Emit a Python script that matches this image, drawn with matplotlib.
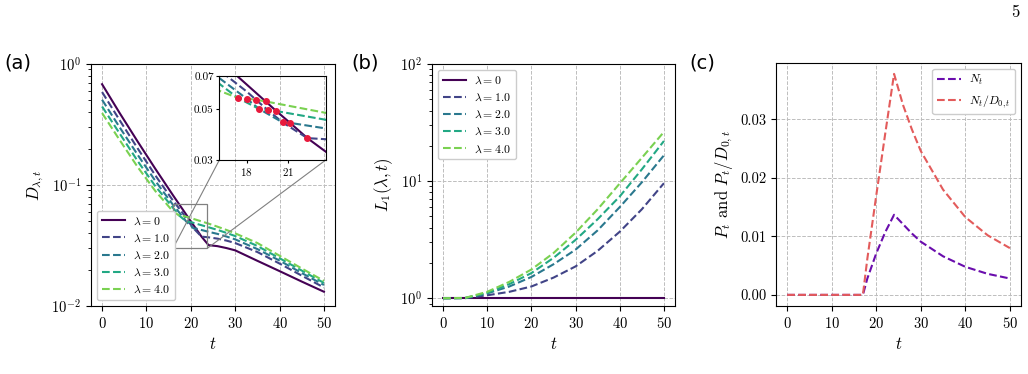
import numpy as np
import matplotlib
matplotlib.use("Agg")
import matplotlib.pyplot as plt

plt.rcParams['font.family'] = 'serif'
plt.rcParams['font.serif'] = ['cmr10', 'DejaVu Serif']
plt.rcParams['mathtext.fontset'] = 'cm'
plt.rcParams['axes.formatter.use_mathtext'] = True
plt.rcParams['axes.unicode_minus'] = False

# panel (a): D_{lambda,t}, one series per lambda
t0 = [0, 4, 8, 12, 16, 19.37, 20.15, 21.15, 22.41, 24, 26, 28, 30, 35, 40, 45, 50]
D0 = [0.680, 0.391, 0.229, 0.136, 0.082, 0.0541, 0.0491, 0.0436, 0.0374, 0.0318,
      0.0312, 0.0301, 0.0288, 0.0236, 0.0194, 0.0159, 0.0131]
t1 = [0, 4, 8, 12, 14, 16, 18, 18.67, 19.52, 20.61, 22.41, 24, 26, 28, 30, 35, 40, 45, 50]
D1 = [0.586, 0.341, 0.201, 0.120, 0.0942, 0.0741, 0.0597, 0.0550, 0.0496, 0.0438, 0.0374,
      0.0369, 0.0360, 0.0347, 0.0331, 0.0279, 0.0224, 0.0178, 0.0142]
t2 = [0, 4, 8, 12, 14, 16, 17.99, 18.91, 20.61, 21.15, 24, 26, 28, 30, 35, 40, 45, 50]
D2 = [0.506, 0.298, 0.178, 0.108, 0.0858, 0.0684, 0.0556, 0.0501, 0.0438, 0.0436, 0.0410,
      0.0394, 0.0375, 0.0355, 0.0295, 0.0237, 0.0187, 0.0149]
t3 = [0, 4, 8, 12, 14, 16, 17.33, 18.91, 19.52, 20.15, 24, 26, 28, 30, 35, 40, 45, 50]
D3 = [0.445, 0.265, 0.158, 0.0977, 0.0795, 0.0646, 0.0561, 0.0501, 0.0496, 0.0491, 0.0447,
      0.0425, 0.0402, 0.0378, 0.0313, 0.0248, 0.0196, 0.0155]
t4 = [0, 4, 8, 12, 14, 16, 17.33, 17.99, 18.67, 19.37, 24, 26, 28, 30, 35, 40, 45, 50]
D4 = [0.393, 0.234, 0.141, 0.0891, 0.0735, 0.0602, 0.0561, 0.0556, 0.0550, 0.0541, 0.0479,
      0.0452, 0.0425, 0.0398, 0.0331, 0.0260, 0.0204, 0.0161]

# crossings marked in the inset
cross_t = [17.33, 17.99, 18.67, 19.37, 18.91, 19.52, 20.15, 20.61, 21.15, 22.41]
cross_D = [0.0561, 0.0556, 0.0550, 0.0541, 0.0501, 0.0496, 0.0491, 0.0438, 0.0436, 0.0374]

# panel (b): L_1(lambda, t)
tb = [0, 5, 10, 15, 20, 25, 30, 35, 40, 45, 50]
L0 = [1, 1, 1, 1, 1, 1, 1, 1, 1, 1, 1]
L1 = [1, 1.002, 1.06, 1.135, 1.26, 1.50, 1.87, 2.54, 3.70, 5.75, 9.6]
L2 = [1, 1.005, 1.10, 1.26, 1.52, 1.95, 2.60, 3.80, 6.0, 9.77, 16.6]
L3 = [1, 1.005, 1.11, 1.32, 1.64, 2.21, 3.15, 4.73, 7.4, 12.6, 22.0]
L4 = [1, 1.007, 1.135, 1.38, 1.76, 2.43, 3.63, 5.75, 9.55, 15.8, 26.3]

# panel (c)
tc = [0, 5, 10, 15, 17, 18, 20, 22, 24, 26, 28, 30, 35, 40, 45, 50]
Nt = [0, 0, 0, 0, 0, 0.0028, 0.0071, 0.0107, 0.0137, 0.0121, 0.0105, 0.0091,
      0.0066, 0.0048, 0.0036, 0.0028]
NtD = [0, 0, 0, 0, 0, 0.0062, 0.0170, 0.0275, 0.0378, 0.0325, 0.0283, 0.0246,
       0.0180, 0.0133, 0.0102, 0.0080]

labels = [r'$\lambda=0$', r'$\lambda=1.0$', r'$\lambda=2.0$', r'$\lambda=3.0$', r'$\lambda=4.0$']
colors = ['#440154', '#414487', '#2a788e', '#22a884', '#7ad151']
styles = ['-', '--', '--', '--', '--']

fig = plt.figure(figsize=(10.28, 3.74), dpi=100)
ax1 = fig.add_axes([0.0885, 0.182, 0.2374, 0.647])
ax2 = fig.add_axes([0.4202, 0.182, 0.2364, 0.647])
ax3 = fig.add_axes([0.7549, 0.182, 0.2383, 0.650])

grid_kw = dict(color='#bdbdbd', linestyle='--', linewidth=0.7)
leg_kw = dict(fontsize=8.5, handlelength=2.0, handletextpad=0.7, framealpha=1)

# (a)
ts = [t0, t1, t2, t3, t4]
Ds = [D0, D1, D2, D3, D4]
for t, D, c, s, lab in zip(ts, Ds, colors, styles, labels):
    ax1.plot(t, D, s, color=c, lw=1.5, label=lab)
ax1.set_yscale('log')
ax1.set_ylim(1e-2, 1e0)
ax1.set_xticks([0, 10, 20, 30, 40, 50])
ax1.grid(True, **grid_kw)
ax1.set_xlabel(r'$t$', fontsize=12)
ax1.set_ylabel(r'$D_{\lambda,t}$', fontsize=12)
ax1.tick_params(labelsize=10.5)
ax1.legend(loc='lower left', **leg_kw)

axins = ax1.inset_axes([0.526, 0.603, 0.436, 0.348])
axins.set_facecolor('none')
for t, D, c, s in zip(ts, Ds, colors, styles):
    axins.plot(t, D, s, color=c, lw=1.5)
axins.plot(cross_t, cross_D, 'o', color='#e8193c', ms=4, zorder=5)
axins.set_yscale('log')
axins.set_xlim(16, 23.75)
axins.set_ylim(0.03, 0.07)
axins.set_xticks([18, 21])
axins.set_yticks([0.03, 0.05, 0.07])
axins.set_yticklabels(['0.03', '0.05', '0.07'])
axins.yaxis.set_minor_locator(matplotlib.ticker.NullLocator())
axins.tick_params(labelsize=8, length=2.5, pad=1.5)
ind = ax1.indicate_inset_zoom(axins, edgecolor='gray', alpha=1, linewidth=0.9)
for con, vis in zip(ind.connectors, [True, False, True, False]):
    con.set_visible(vis)
    con.set_color('gray')
    con.set_linewidth(0.8)

# (b)
for L, c, s, lab in zip([L0, L1, L2, L3, L4], colors, styles, labels):
    ax2.plot(tb, L, s, color=c, lw=1.5, label=lab)
ax2.set_yscale('log')
ax2.set_ylim(0.86, 1e2)
ax2.set_xticks([0, 10, 20, 30, 40, 50])
ax2.grid(True, **grid_kw)
ax2.set_xlabel(r'$t$', fontsize=12)
ax2.set_ylabel(r'$L_1(\lambda,t)$', fontsize=12)
ax2.tick_params(labelsize=10.5)
ax2.legend(loc='upper left', **leg_kw)

# (c)
ax3.plot(tc, Nt, '--', color='#6a0dad', lw=1.5, label=r'$N_t$')
ax3.plot(tc, NtD, '--', color='#e35b5b', lw=1.5, label=r'$N_t/D_{0,t}$')
ax3.set_xticks([0, 10, 20, 30, 40, 50])
ax3.set_yticks([0.0, 0.01, 0.02, 0.03])
ax3.yaxis.set_major_formatter(matplotlib.ticker.FormatStrFormatter('%.2f'))
ax3.grid(True, **grid_kw)
ax3.set_xlabel(r'$t$', fontsize=12)
ax3.set_ylabel(r'$P_t$ and $P_t/D_{0,t}$', fontsize=12)
ax3.tick_params(labelsize=10.5)
ax3.legend(loc='upper right', **leg_kw)

for x, s in [(0.004, '(a)'), (0.342, '(b)'), (0.671, '(c)')]:
    fig.text(x, 0.832, s, family='DejaVu Sans', fontsize=14, va='center', ha='left')
fig.text(0.988, 0.966, '5', fontsize=12, ha='center', va='center')

fig.savefig('out.png', dpi=100)
